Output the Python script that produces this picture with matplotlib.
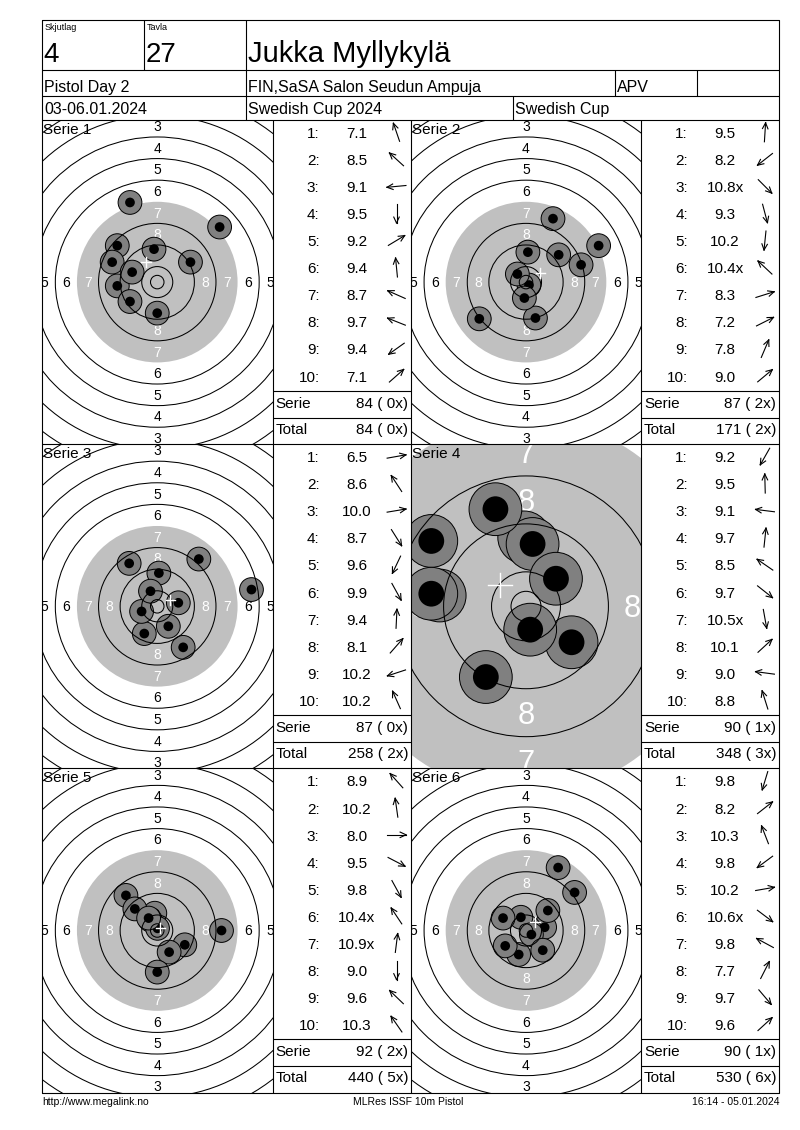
import numpy as np
import matplotlib.pyplot as plt
from matplotlib.patches import Circle

plt.rcParams['font.family'] = ['Liberation Sans', 'DejaVu Sans']

# ---- header data ----
relay_no = '4'
target_no = '27'
shooter = 'Jukka Myllykylä'
event = 'Pistol Day 2'
club = 'FIN,SaSA Salon Seudun Ampuja'
shooter_class = 'APV'
dates = '03-06.01.2024'
competition = 'Swedish Cup 2024'
cup = 'Swedish Cup'
footer_left = 'http://www.megalink.no'
footer_mid = 'MLRes ISSF 10m Pistol'
footer_right = '16:14 - 05.01.2024'

# ---- shot data: score text and hit position in mm (x right, y up) ----
s1_scores = ['7.1', '8.5', '9.1', '9.5', '9.2', '9.4', '8.7', '9.7', '9.4', '7.1']
s1_x = [-10.1, -14.8, -14.8, 0.0, 12.3, -1.2, -16.7, -9.3, -10.1, 23.1]
s1_y = [29.5, 13.5, -1.4, -11.5, 7.4, 12.2, 7.4, 3.7, -7.2, 20.4]

s2_scores = ['9.5', '8.2', '10.8x', '9.3', '10.2', '10.4x', '8.3', '7.2', '7.8', '9.0']
s2_x = [0.7, -17.3, 1.1, 3.5, -0.6, -3.2, 20.4, 26.9, 10.0, 12.1]
s2_y = [11.1, -13.6, -1.1, -13.3, -5.9, 3.0, 6.4, 13.5, 23.5, 10.1]

s3_scores = ['6.5', '8.6', '10.0', '8.7', '9.6', '9.9', '9.4', '8.1', '10.2', '10.2']
s3_x = [34.9, -10.4, 7.8, 9.6, -4.8, 4.1, 0.6, 15.4, -5.8, -2.5]
s3_y = [6.2, 15.9, 1.3, -15.2, -10.1, -7.4, 12.3, 17.5, -1.9, 5.6]

s4_scores = ['9.2', '9.5', '9.1', '9.7', '8.5', '9.7', '10.5x', '10.1', '9.0', '8.8']
s4_x = [-6.7, -0.3, -14.4, 1.1, -15.8, 7.6, 0.7, 5.0, -15.8, -5.1]
s4_y = [-11.8, 11.5, 1.8, 10.4, 10.9, -6.0, -3.9, 4.6, 2.1, 16.2]

s5_scores = ['8.9', '10.2', '8.0', '9.5', '9.8', '10.4x', '10.9x', '9.0', '9.6', '10.3']
s5_x = [-11.6, -0.9, 23.8, 10.2, 4.4, -2.6, 0.1, 0.0, -8.3, -3.2]
s5_y = [13.0, 6.4, 0.0, -5.3, -8.0, 3.9, 0.8, -15.4, 8.0, 4.6]

s6_scores = ['9.8', '8.2', '10.3', '9.8', '10.2', '10.6x', '9.8', '7.7', '9.7', '9.6']
s6_x = [-2.7, 18.0, -1.9, -7.7, 6.9, 2.0, -8.5, 11.9, 6.2, 8.1]
s6_y = [-8.9, 14.1, 4.9, -5.7, 1.2, -1.5, 4.6, 23.3, -7.3, 7.4]

serie_sum = [84, 87, 87, 90, 92, 90]
serie_inner = [0, 2, 0, 1, 2, 1]
total_sum = [84, 171, 258, 348, 440, 530]
total_inner = [0, 2, 2, 3, 5, 6]

series = [
    (s1_scores, s1_x, s1_y), (s2_scores, s2_x, s2_y),
    (s3_scores, s3_x, s3_y), (s4_scores, s4_x, s4_y),
    (s5_scores, s5_x, s5_y), (s6_scores, s6_x, s6_y),
]
zooms = [1, 1, 1, 2.22, 1, 1]

# ISSF 10m pistol ring radii (mm)
ring_r = {k: 5.75 + 8 * (10 - k) for k in range(1, 11)}
inner_ten = 2.5

W, H = 800, 1130
PX_MM = 2.7
LEFT, RIGHT = 42, 779
PANEL_TOP = 120
PH = 324.2
BOTTOM = PANEL_TOP + 3 * PH
cols = [(42, 272.5, 411), (411, 641, 779)]  # target left, table left, table right

fig = plt.figure(figsize=(W / 100, H / 100), dpi=100)


def draw_target(x0, y0, w, h, zoom, xs, ys):
    ax = fig.add_axes([x0 / W, 1 - (y0 + h) / H, w / W, h / H])
    s = PX_MM * zoom
    xlim, ylim = w / 2 / s, h / 2 / s
    ax.set_xlim(-xlim, xlim)
    ax.set_ylim(-ylim, ylim)
    ax.axis('off')

    # the zoomed view draws the black aiming mark a little wider
    mark_r = ring_r[7] if zoom == 1 else 31.3
    ax.add_patch(Circle((0, 0), mark_r, fc='#c0c0c0', ec='none', zorder=1))

    # ring numbers (only those that at least partly show in the panel)
    fs = 10 * zoom
    half_cap = 0.716 * fs * 100 / 72 / 2 / s
    for k in range(1, 9):
        rr = ring_r[k] - 4
        col = 'white' if k >= 7 else 'black'
        for dx, dy in [(0, 1), (0, -1), (1, 0), (-1, 0)]:
            lim = xlim if dx else ylim
            if rr >= lim:
                continue
            ax.text(dx * rr, dy * rr - half_cap, str(k), ha='center', va='baseline',
                    fontsize=fs, color=col, clip_on=True, zorder=2)

    # shots
    rb = 1.8 if zoom == 1 else 2.15
    for i, (x, y) in enumerate(zip(xs, ys)):
        ax.add_patch(Circle((x, y), 4.4, fc='#808080', ec='black', lw=0.7, zorder=3 + 2 * i))
        ax.add_patch(Circle((x, y), rb, fc='black', ec='none', zorder=4 + 2 * i))

    for k in [1, 2, 3, 4, 5, 6, 8, 9, 10]:
        ax.add_patch(Circle((0, 0), ring_r[k], fc='none', ec='black', lw=0.75, zorder=30))
    ax.add_patch(Circle((0, 0), inner_ten, fc='none', ec='black', lw=0.75, zorder=30))

    # mean point of impact
    mx, my = np.mean(xs), np.mean(ys)
    c = 2.0 if zoom > 1 else 1.8
    ax.plot([mx - c, mx + c], [my, my], color='white', lw=1, zorder=40)
    ax.plot([mx, mx], [my - c, my + c], color='white', lw=1, zorder=40)


for n, (scores, xs, ys) in enumerate(series):
    row, col = divmod(n, 2)
    tl, tb, tr = cols[col]
    top = PANEL_TOP + row * PH
    draw_target(tl, top, tb - tl, PH, zooms[n], xs, ys)

# ---- frame, header and tables ----
fr = fig.add_axes([0, 0, 1, 1], zorder=10)
fr.set_xlim(0, W)
fr.set_ylim(H, 0)
fr.axis('off')
fr.patch.set_alpha(0)

lw = 0.8
k = dict(color='black', lw=lw, solid_capstyle='butt')
fr.plot([LEFT, RIGHT, RIGHT, LEFT, LEFT], [20, 20, BOTTOM, BOTTOM, 20], **k)
for y in [70, 96, 120, PANEL_TOP + PH, PANEL_TOP + 2 * PH]:
    fr.plot([LEFT, RIGHT], [y, y], **k)
fr.plot([144, 144], [20, 70], **k)
fr.plot([246, 246], [20, 120], **k)
fr.plot([615, 615], [70, 96], **k)
fr.plot([697, 697], [70, 96], **k)
fr.plot([513, 513], [96, 120], **k)
for x in [272.5, 411, 641]:
    fr.plot([x, x], [PANEL_TOP, BOTTOM], **k)

fr.text(45, 27, 'Skjutlag', fontsize=6.5, va='center')
fr.text(147, 27, 'Tavla', fontsize=6.5, va='center')
fr.text(43, 62, relay_no, fontsize=20, va='baseline')
fr.text(146, 62, target_no, fontsize=20, va='baseline')
fr.text(248, 62, shooter, fontsize=21, va='baseline')
fr.text(44, 92, event, fontsize=11.5, va='baseline')
fr.text(248, 92, club, fontsize=11.5, va='baseline')
fr.text(617, 92, shooter_class, fontsize=11.5, va='baseline')
fr.text(44, 114, dates, fontsize=11.5, va='baseline')
fr.text(248, 114, competition, fontsize=11.5, va='baseline')
fr.text(515, 114, cup, fontsize=11.5, va='baseline')

fr.text(LEFT, 1102, footer_left, fontsize=7.5, va='center')
fr.text(408, 1102, footer_mid, fontsize=7.5, va='center', ha='center')
fr.text(RIGHT, 1102, footer_right, fontsize=7.5, va='center', ha='right')


def draw_arrow(cx, cy, x, y, L=19, head=6.5, ang=np.radians(25)):
    a = np.arctan2(y, x)
    ux, uy = np.cos(a), -np.sin(a)  # frame y points down
    tx, ty = cx + ux * L / 2, cy + uy * L / 2
    fr.plot([cx - ux * L / 2, tx], [cy - uy * L / 2, ty], color='black', lw=0.8)
    for sgn in (1, -1):
        b = np.arctan2(-uy, -ux) + sgn * ang
        fr.plot([tx, tx + head * np.cos(b)], [ty, ty + head * np.sin(b)], color='black', lw=0.8)


for n, (scores, xs, ys) in enumerate(series):
    row, col = divmod(n, 2)
    tl, tb, tr = cols[col]
    top = PANEL_TOP + row * PH
    fr.text(tl + 1, top + 14, f'Serie {n + 1}', fontsize=11, va='baseline')
    for i, sc in enumerate(scores):
        yc = top + 12.3 + 27.05 * i
        fr.text(tb + 47, yc + 5.8, f'{i + 1}:', fontsize=11, ha='right', va='baseline')
        fr.text(tb + 84, yc + 5.8, sc, fontsize=11, ha='center', va='baseline')
        draw_arrow(tb + 124, yc, xs[i], ys[i])
    fr.plot([tb, tr], [top + 270.5, top + 270.5], **k)
    fr.plot([tb, tr], [top + 297.5, top + 297.5], **k)
    fr.text(tb + 3, top + 288, 'Serie', fontsize=11, va='baseline')
    fr.text(tr - 3, top + 288, f'{serie_sum[n]} ( {serie_inner[n]}x)', fontsize=11,
            ha='right', va='baseline')
    fr.text(tb + 3, top + 314, 'Total', fontsize=11, va='baseline')
    fr.text(tr - 3, top + 314, f'{total_sum[n]} ( {total_inner[n]}x)', fontsize=11,
            ha='right', va='baseline')

fig.savefig('out.png', dpi=100, facecolor='white')
